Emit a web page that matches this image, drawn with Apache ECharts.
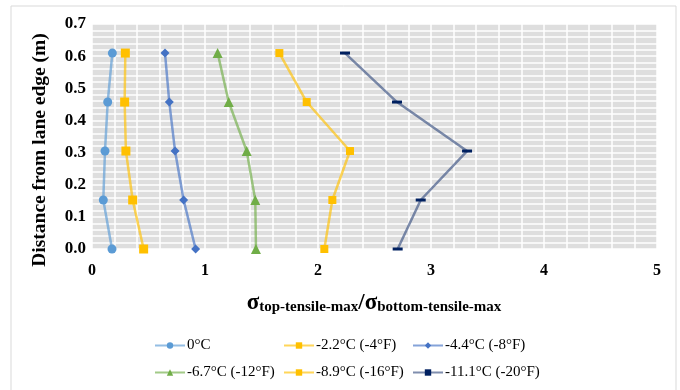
<!DOCTYPE html>
<html>
<head>
<meta charset="utf-8">
<script src="https://cdn.jsdelivr.net/npm/echarts@6/dist/echarts.min.js"></script>
<style>
  html, body { margin: 0; padding: 0; background: #fff; }
  #chart { width: 680px; height: 390px; }
</style>
</head>
<body>
<div id="chart"></div>
<script>
// distance from lane edge (m), 0 / 6 / 12 / 18 / 24 in
var heights = [0, 0.1524, 0.3048, 0.4572, 0.6096];

var names = ['0°C', '-2.2°C (-4°F)', '-4.4°C (-8°F)', '-6.7°C (-12°F)', '-8.9°C (-16°F)', '-11.1°C (-20°F)'];

// stress ratio, bottom -> top
var t0 = [0.177, 0.10, 0.115, 0.139, 0.18];
var t22 = [0.457, 0.36, 0.30, 0.289, 0.295];
var t44 = [0.917, 0.811, 0.735, 0.684, 0.646];
var t67 = [1.451, 1.445, 1.369, 1.21, 1.112];
var t89 = [2.056, 2.127, 2.283, 1.90, 1.658];
var t111 = [2.705, 2.909, 3.319, 2.699, 2.239];

var yTicks = ['0.0', '0.1', '0.2', '0.3', '0.4', '0.5', '0.6', '0.7'];

function pairs(vals) {
  return vals.map(function (v, i) { return [v, heights[i]]; });
}

var looks = [
  { line: '#5B9BD5', mark: '#5B9BD5', symbol: 'circle', size: 9 },
  { line: '#FFC000', mark: '#FFC000', symbol: 'rect', size: 9 },
  { line: '#4472C4', mark: '#4472C4', symbol: 'diamond', size: 9 },
  { line: '#70AD47', mark: '#70AD47', symbol: 'triangle', size: 10 },
  { line: '#FFC000', mark: '#FFC000', symbol: 'rect', size: 8 },
  { line: '#3B5283', mark: '#002060', symbol: 'rect', size: [10, 3] }
];

var all = [t0, t22, t44, t67, t89, t111];

var series = all.map(function (vals, i) {
  return {
    name: names[i],
    type: 'line',
    data: pairs(vals),
    symbol: looks[i].symbol,
    symbolSize: looks[i].size,
    lineStyle: { color: looks[i].line, width: 2.5, opacity: 0.65 },
    itemStyle: { color: looks[i].mark },
    animation: false
  };
});

// one legend per item so the columns line up
var legendPos = [[154, 338], [283, 338], [412, 338], [154, 365], [283, 365], [412, 365]];
var legends = names.map(function (n, i) {
  return {
    data: [n],
    left: legendPos[i][0],
    top: legendPos[i][1],
    padding: 0,
    itemWidth: 30,
    itemHeight: 8,
    textStyle: { fontFamily: 'Liberation Serif', fontSize: 15, color: '#000', padding: [0, 0, 0, -3] }
  };
});

var myChart = echarts.init(document.getElementById('chart'));
myChart.setOption({
  backgroundColor: '#fff',
  legend: legends,
  grid: {
    left: 92, right: 23, top: 24, bottom: 141,
    show: true, backgroundColor: '#dedede', borderWidth: 0
  },
  xAxis: {
    type: 'value', min: 0, max: 5, interval: 1,
    axisLine: { show: false }, axisTick: { show: false },
    axisLabel: { margin: 14, fontFamily: 'Liberation Serif', fontSize: 16, fontWeight: 'bold', color: '#000' },
    splitLine: { lineStyle: { color: '#fff', width: 1.5 } },
    minorTick: { show: false, splitNumber: 5 },
    minorSplitLine: { show: true, lineStyle: { color: '#fff', width: 1.5 } }
  },
  yAxis: {
    type: 'value', min: 0, max: 0.7, interval: 0.1,
    axisLine: { show: false }, axisTick: { show: false },
    axisLabel: {
      margin: 6, fontFamily: 'Liberation Serif', fontSize: 17, fontWeight: 'bold', color: '#000',
      formatter: function (v) { return yTicks[Math.round(v * 10)]; }
    },
    splitLine: { lineStyle: { color: '#fff', width: 1.5 } },
    minorTick: { show: false, splitNumber: 5 },
    minorSplitLine: { show: true, lineStyle: { color: '#fff', width: 1.5 } }
  },
  graphic: [
    {
      type: 'rect', shape: { x: 11, y: 6, width: 665, height: 400 },
      style: { fill: 'none', stroke: '#d9d9d9', lineWidth: 1 }, z: 100
    },
    {
      type: 'text', x: 40, y: 150, rotation: Math.PI / 2,
      style: {
        text: 'Distance from lane edge (m)', align: 'center', verticalAlign: 'middle',
        fontFamily: 'Liberation Serif', fontSize: 19.5, fontWeight: 'bold', fill: '#000'
      }
    },
    {
      type: 'text', x: 374, y: 303,
      style: {
        text: '{s|σ}{sub|top-tensile-max}{s|/σ}{sub|bottom-tensile-max}',
        align: 'center', verticalAlign: 'middle',
        rich: {
          s: { fontFamily: 'Liberation Serif', fontSize: 23, fontWeight: 'bold', fill: '#000' },
          sub: { fontFamily: 'Liberation Serif', fontSize: 15, fontWeight: 'bold', fill: '#000', verticalAlign: 'bottom', padding: [9, 0, 0, 0] }
        }
      }
    }
  ],
  series: series
});
</script>
</body>
</html>
